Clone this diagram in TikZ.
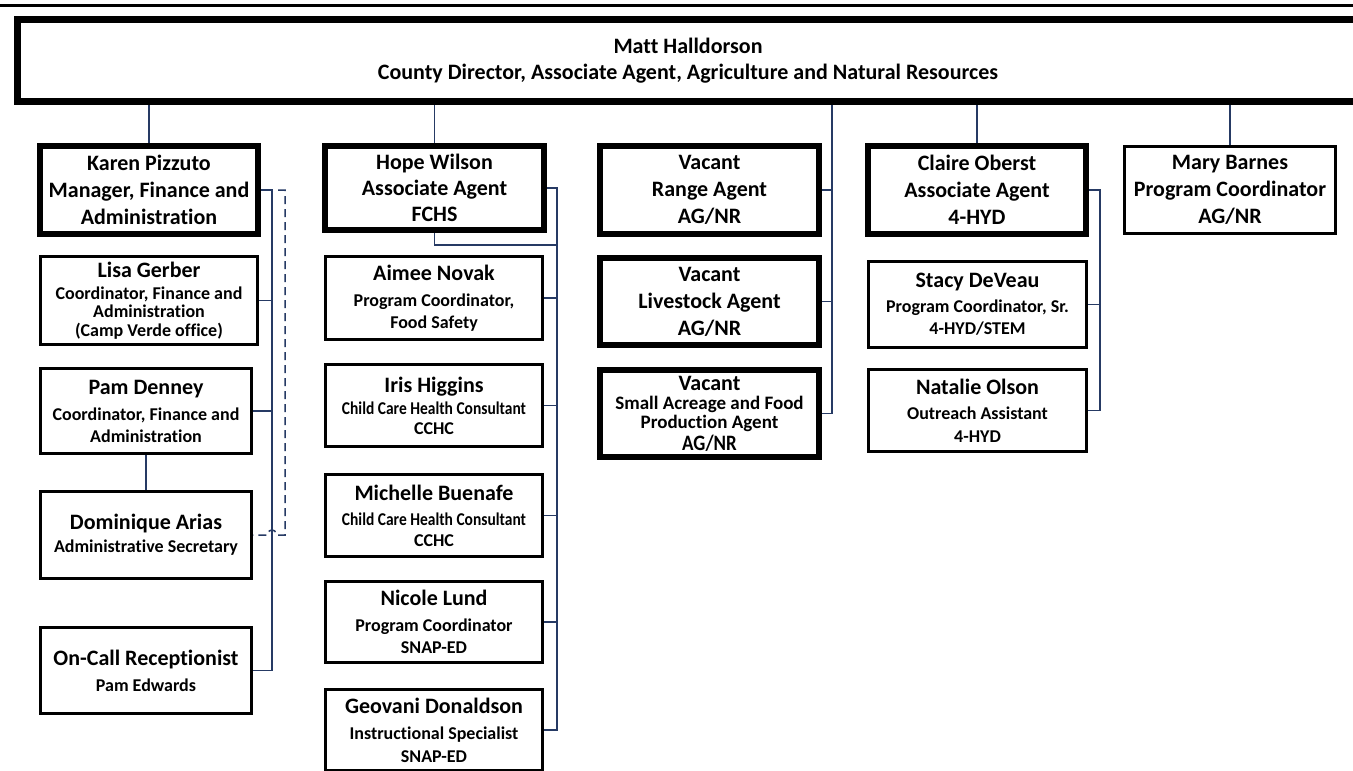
\documentclass[tikz,border=0pt]{standalone}
\usepackage{fontspec}
\usepackage{graphicx}
\setmainfont{Carlito}[Ligatures=CommonOff]
\usetikzlibrary{calc}
\definecolor{navy}{RGB}{38,58,100}
\newcommand\bg{\fontsize{22}{27}\selectfont}
\newcommand\sm{\fontsize{18}{27}\selectfont}
\newcommand\md{\fontsize{19}{27}\selectfont}
\newcommand\cond[1]{\scalebox{0.86}[1]{#1}}
\begin{document}
\begin{tikzpicture}[x=1pt,y=-1pt,
  box/.style={draw=black, fill=white, inner sep=0pt, align=center, font=\bfseries\bg, line width=3pt},
  thickbox/.style={box, line width=6pt},
  conn/.style={draw=navy, line width=1.5pt},
  dconn/.style={conn, dash pattern=on 8pt off 5pt},
]
\useasboundingbox (0,0) rectangle (1353,771);
\clip (0,0) rectangle (1353,771);
\fill[white] (0,0) rectangle (1353,771);
\draw[line width=3pt] (0,5) -- (1353,5);

\coordinate (kbus) at (272,0);
\coordinate (dbus) at (285,0);
\coordinate (dstart) at (278,0);
\coordinate (hbus) at (557,0);
\coordinate (vbus) at (832,0);
\coordinate (cbus) at (1100,0);

% boxes
\node[box, line width=7pt, minimum width=1341pt, minimum height=82pt] (top) at (688,60.5)
  {Matt Halldorson\\[-1pt]County Director, Associate Agent, Agriculture and Natural Resources};

\node[thickbox, minimum width=218pt, minimum height=88pt] (karen) at (149,190)
  {Karen Pizzuto\\Manager, Finance and\\Administration};
\node[box, minimum width=217pt, minimum height=88pt] (lisa) at (149,300.5)
  {Lisa Gerber\\[-5pt]{\sm Coordinator, Finance and}\\[-8.5pt]{\sm Administration}\\[-8pt]{\sm (Camp Verde office)}};
\node[box, minimum width=211pt, minimum height=85pt] (pam) at (146,411)
  {Pam Denney\\[-1pt]{\sm Coordinator, Finance and}\\[-5pt]{\sm Administration}};
\node[box, minimum width=211pt, minimum height=87pt] (dominique) at (146,535)
  {Dominique Arias\\[-4pt]{\sm Administrative Secretary}};
\node[box, minimum width=211pt, minimum height=86pt] (oncall) at (146,670.5)
  {On-Call Receptionist\\[-1pt]{\sm Pam Edwards}};

\node[thickbox, minimum width=219pt, minimum height=84pt] (hope) at (434.5,188)
  {Hope Wilson\\[-1pt]Associate Agent\\[-1pt]FCHS};
\node[box, minimum width=217pt, minimum height=83pt] (aimee) at (434,298)
  {Aimee Novak\\[-1pt]{\sm Program Coordinator,}\\[-5pt]{\sm Food Safety}};
\node[box, minimum width=217pt, minimum height=82pt] (iris) at (434,405.5)
  {Iris Higgins\\[-5pt]{\sm\cond{Child Care Health Consultant}}\\[-7pt]{\sm CCHC}};
\node[box, minimum width=217pt, minimum height=82pt] (michelle) at (434,515.5)
  {Michelle Buenafe\\[-2pt]{\sm\cond{Child Care Health Consultant}}\\[-6pt]{\sm CCHC}};
\node[box, minimum width=217pt, minimum height=81pt] (nicole) at (434,622)
  {Nicole Lund\\[-1pt]{\sm Program Coordinator}\\[-5pt]{\sm SNAP-ED}};
\node[box, minimum width=217pt, minimum height=81pt] (geovani) at (434,730)
  {Geovani Donaldson\\[-1pt]{\sm Instructional Specialist}\\[-4pt]{\sm SNAP-ED}};

\node[thickbox, minimum width=219pt, minimum height=88pt] (range) at (709.5,190)
  {Vacant\\Range Agent\\AG/NR};
\node[thickbox, minimum width=219pt, minimum height=87pt] (livestock) at (709.5,301.5)
  {Vacant\\Livestock Agent\\AG/NR};
\node[thickbox, minimum width=219pt, minimum height=87pt] (small) at (709.5,413.5)
  {Vacant\\[-8pt]{\md Small Acreage and Food}\\[-8pt]{\md Production Agent}\\[-5pt]{\cond{AG/NR}}};

\node[thickbox, minimum width=218pt, minimum height=88pt] (claire) at (977,190)
  {Claire Oberst\\Associate Agent\\4-HYD};
\node[box, minimum width=218pt, minimum height=86pt] (stacy) at (977.5,304.5)
  {Stacy DeVeau\\[-2pt]{\sm Program Coordinator, Sr.}\\[-5pt]{\sm 4-HYD/STEM}};
\node[box, minimum width=218pt, minimum height=82pt] (natalie) at (977.5,410.5)
  {Natalie Olson\\[-2pt]{\sm Outreach Assistant}\\[-4pt]{\sm 4-HYD}};
\node[box, minimum width=211pt, minimum height=87pt] (mary) at (1230,190)
  {Mary Barnes\\Program Coordinator\\AG/NR};

% connectors from director
\draw[conn] (top.south -| karen.north) -- (karen.north);
\draw[conn] (top.south -| hope.north) -- (hope.north);
\draw[conn] (top.south -| vbus) |- (small.east);
\draw[conn] (range.east) -- (range.east -| vbus);
\draw[conn] (livestock.east) -- (livestock.east -| vbus);
\draw[conn] (top.south -| claire.north) -- (claire.north);
\draw[conn] (top.south -| mary.north) -- (mary.north);

% Karen group
\draw[conn] (karen.east) -- (karen.east -| kbus) |- (oncall.east);
\draw[conn] (lisa.east) -- (lisa.east -| kbus);
\draw[conn] (pam.east) -- (pam.east -| kbus);
\draw[conn] (pam.south) -- (dominique.north);
\draw[dconn] (karen.east -| dstart) -- (karen.east -| dbus) -- (dbus |- dominique.east)
  -- ($(kbus |- dominique.east)+(4,0)$) .. controls +(0,-7) and +(0,-7) .. ($(kbus |- dominique.east)+(-4,0)$)
  -- (dominique.east);

% Hope group
\draw[conn] (hope.east) -- (hope.east -| hbus) |- (geovani.east);
\draw[conn] (hope.south) |- ($(hope.south -| hbus)+(0,12)$);
\draw[conn] (aimee.east) -- (aimee.east -| hbus);
\draw[conn] (iris.east) -- (iris.east -| hbus);
\draw[conn] (michelle.east) -- (michelle.east -| hbus);
\draw[conn] (nicole.east) -- (nicole.east -| hbus);

% Claire group
\draw[conn] (claire.east) -- (claire.east -| cbus) |- (natalie.east);
\draw[conn] (stacy.east) -- (stacy.east -| cbus);
\end{tikzpicture}
\end{document}
